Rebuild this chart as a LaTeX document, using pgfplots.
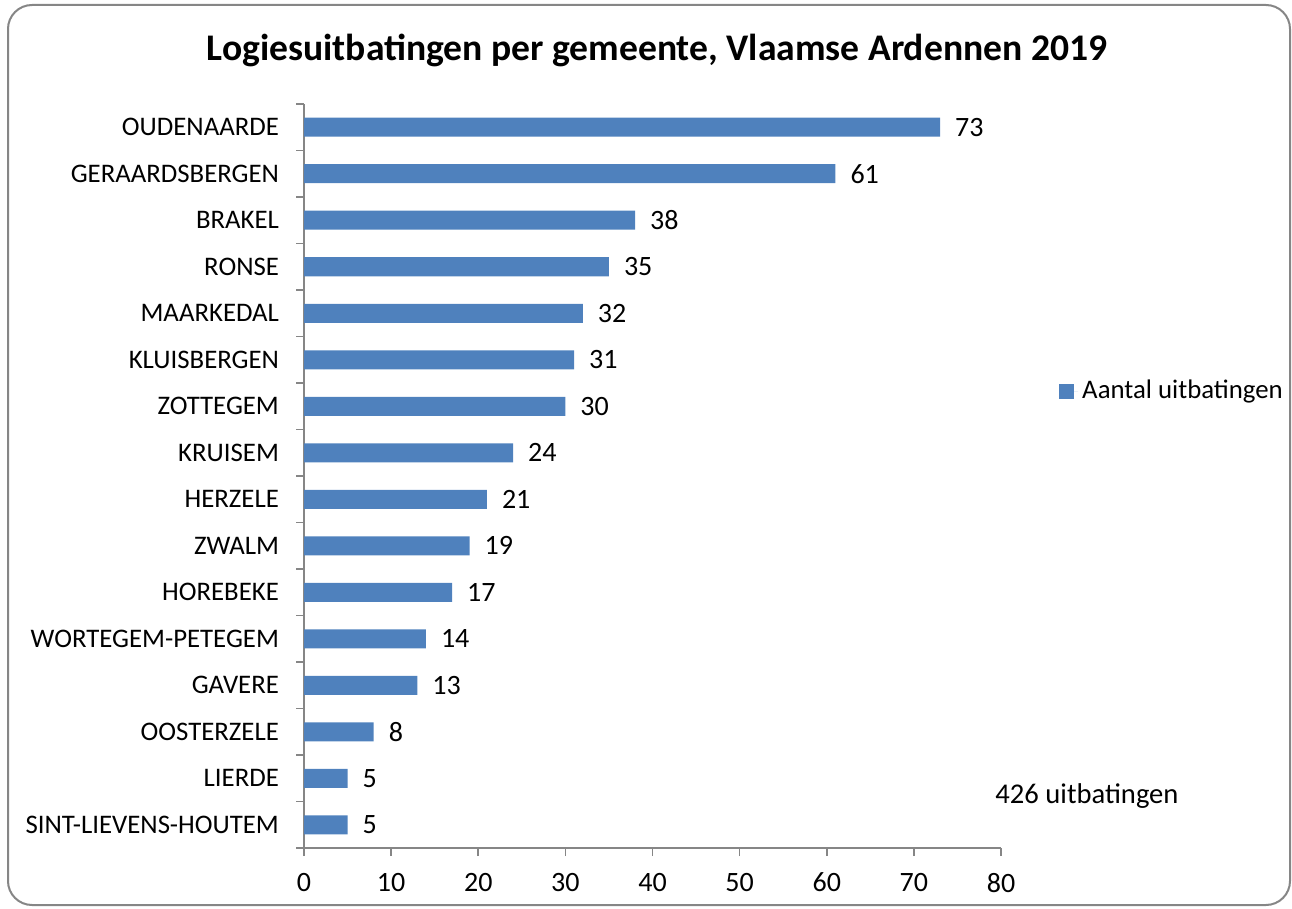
\documentclass[border=0pt]{standalone}
\usepackage{pgfplots}
\pgfplotsset{compat=1.18}
\usepackage{fontspec}
\setmainfont{Carlito}
\definecolor{barblue}{HTML}{4F81BD}
\definecolor{axgray}{HTML}{868686}

\begin{document}
\begin{tikzpicture}[x=1pt,y=1pt]
% canvas (1 px = 0.5 pt)
\path[use as bounding box] (0,0) rectangle (646,-454.5);
\draw[axgray, line width=1pt, rounded corners=12pt] (4,-2.5) rectangle (645,-452.5);
\node[font=\fontsize{18.8}{22}\selectfont\bfseries] at (328.5,-25) {Logiesuitbatingen per gemeente, Vlaamse Ardennen 2019};
\begin{axis}[
    at={(152pt,-424pt)}, anchor=south west,
    width=348.5pt, height=372pt, scale only axis,
    xbar, bar width=9.5pt,
    xmin=0, xmax=80, ymin=-0.5, ymax=15.5,
    xtick={0,10,...,80},
    ytick={0,...,15},
    yticklabels={SINT-LIEVENS-HOUTEM,LIERDE,OOSTERZELE,GAVERE,WORTEGEM-PETEGEM,HOREBEKE,ZWALM,HERZELE,KRUISEM,ZOTTEGEM,KLUISBERGEN,MAARKEDAL,RONSE,BRAKEL,GERAARDSBERGEN,OUDENAARDE},
    minor ytick={-0.5,0.5,...,15.5},
    axis x line*=bottom, axis y line*=left,
    axis line style={axgray, line width=0.8pt},
    tick align=outside,
    major tick length=4pt, minor tick length=4pt,
    x tick style={axgray, line width=0.8pt},
    y tick style={draw=none},
    minor y tick style={draw=axgray, line width=0.8pt},
    tick label style={font=\fontsize{14}{16}\selectfont, text=black},
    yticklabel style={xshift=-5pt, font=\fontsize{13.4}{16}\selectfont},
    xticklabel style={yshift=-5pt},
    /pgf/number format/assume math mode=true,
    nodes near coords,
    nodes near coords style={font=\fontsize{14}{16}\selectfont, text=black, xshift=4pt},
    legend style={at={(rel axis cs:1.083,0.614)}, anchor=west, draw=none, fill=none,
        inner sep=0pt, font=\fontsize{13.4}{16}\selectfont},
    legend image code/.code={\fill[barblue] (0pt,-3.75pt) rectangle (7.5pt,3.75pt);
        \path (0pt,0pt) -- (9.5pt,0pt);},
]
\addplot[fill=barblue, draw=none] coordinates {
    (5,0) (5,1) (8,2) (13,3) (14,4) (17,5) (19,6) (21,7)
    (24,8) (30,9) (31,10) (32,11) (35,12) (38,13) (61,14) (73,15)
};
\addlegendentry{Aantal uitbatingen}
\end{axis}
\node[font=\fontsize{14.3}{16}\selectfont] at (543.5,-398) {426 uitbatingen};
\end{tikzpicture}
\end{document}
